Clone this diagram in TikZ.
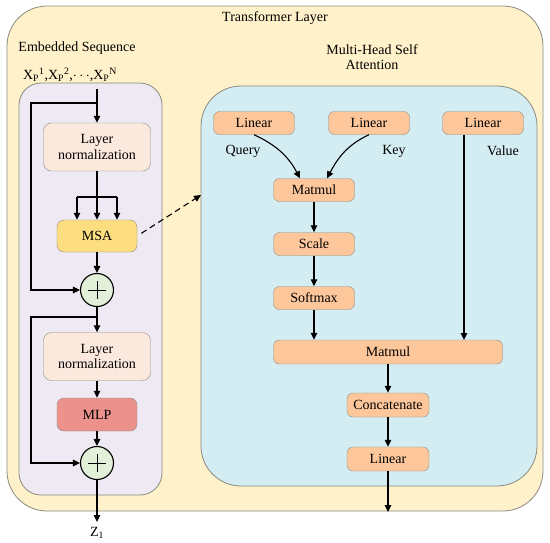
\documentclass[tikz,border=0pt]{standalone}
\usepackage{fontspec}
\setmainfont{Liberation Serif}
\usetikzlibrary{arrows.meta,calc}
\definecolor{outerfill}{HTML}{FFF1CA}
\definecolor{purplefill}{HTML}{EEE9F2}
\definecolor{lnfill}{HTML}{FCE9DE}
\definecolor{msafill}{HTML}{FCDD80}
\definecolor{mlpfill}{HTML}{EC928D}
\definecolor{plusfill}{HTML}{E2F0D9}
\definecolor{bluefill}{HTML}{D4EDF3}
\definecolor{orangefill}{HTML}{FDC79B}
\definecolor{edge}{HTML}{8A8A80}
\tikzset{
  every node/.style={font=\fontsize{14}{15.5}\selectfont},
  container/.style={draw=edge, line width=0.8pt, inner sep=0pt},
  lnbox/.style={draw=edge, fill=lnfill, rounded corners=8pt, minimum width=107pt, minimum height=48pt, align=center, inner sep=1pt},
  colbox/.style={draw=edge, rounded corners=7pt, minimum width=80pt, minimum height=32pt},
  obox/.style={draw=edge, fill=orangefill, rounded corners=6pt, minimum width=81pt, minimum height=23pt, inner sep=1pt},
  plusnode/.style={draw=black, line width=1.1pt, fill=plusfill, circle, minimum size=33pt, inner sep=0pt,
    path picture={\draw[line width=0.7pt] ([xshift=-9pt]path picture bounding box.center) -- ([xshift=9pt]path picture bounding box.center);
                  \draw[line width=0.7pt] ([yshift=-9pt]path picture bounding box.center) -- ([yshift=9pt]path picture bounding box.center);}},
  arr/.style={line width=1.1pt, -{Triangle[length=7pt,width=6.5pt]}},
  ln/.style={line width=1.1pt},
}
\begin{document}
\begin{tikzpicture}[x=1pt,y=-1pt]
\useasboundingbox (0,0) rectangle (550,542);
% containers
\node[container, fill=outerfill, rounded corners=40pt, minimum width=536pt, minimum height=505pt] (tl) at (275,258.5) {};
\node (tltitle) at (275,18) {Transformer Layer};
\node (emb) at (77,48) {Embedded Sequence};
\node (xin) at (70,75) {X\textsubscript{P}\textsuperscript{1},X\textsubscript{P}\textsuperscript{2},$\cdots$,X\textsubscript{P}\textsuperscript{N}};
\node[container, fill=purplefill, rounded corners=22pt, minimum width=143pt, minimum height=412pt] (enc) at (90.5,289) {};
\node[container, fill=bluefill, rounded corners=40pt, minimum width=336pt, minimum height=400pt] (mhsa) at (369,286) {};
\node[align=center] (mhsatitle) at (372,57) {Multi-Head Self\\Attention};

% encoder block
\node[lnbox] (ln1) at (97,147) {Layer\\normalization};
\node[colbox, fill=msafill] (msa) at (97,236) {MSA};
\node[plusnode] (p1) at (97,290) {};
\node[lnbox] (ln2) at (97,356.5) {Layer\\normalization};
\node[colbox, fill=mlpfill, minimum height=33pt] (mlp) at (97,414.5) {MLP};
\node[plusnode] (p2) at (97,463) {};
\node (z1) at (97,533) {Z\textsubscript{1}};

\coordinate (in) at (97,89);
\coordinate (b1) at (97,103);
\coordinate (s1a) at (31,103);
\coordinate (s1b) at (31,290);
\coordinate (f) at (97,197);
\coordinate (fl) at (77,197);
\coordinate (fr) at (117,197);
\coordinate (b2) at (97,317);
\coordinate (s2a) at (31,317);
\coordinate (s2b) at (31,463);
\coordinate (zout) at (97,522);
\coordinate (dashend) at (201,195);

\draw[arr] (in) -- (ln1.north);
\draw[arr] (b1) -- (s1a) -- (s1b) -- (p1.west);
\draw[ln] (ln1.south) -- (f);
\draw[ln] (fl) -- (fr);
\draw[arr] (fl) -- (fl |- msa.north);
\draw[arr] (f) -- (msa.north);
\draw[arr] (fr) -- (fr |- msa.north);
\draw[arr] (msa.south) -- (p1.north);
\draw[arr] (p1.south) -- (ln2.north);
\draw[arr] (b2) -- (s2a) -- (s2b) -- (p2.west);
\draw[arr] (ln2.south) -- (mlp.north);
\draw[arr] (mlp.south) -- (p2.north);
\draw[arr] (p2.south) -- (zout);
\draw[arr, dashed, dash pattern=on 6pt off 4pt, shorten <=5pt] (msa.east) -- (dashend);

% attention block
\node[obox] (l1) at (254,123) {Linear};
\node[obox] (l2) at (369,123) {Linear};
\node[obox] (l3) at (483,123) {Linear};
\node (q) at (243,151) {Query};
\node (k) at (394,151) {Key};
\node (v) at (503,151) {Value};
\node[obox] (mm1) at (314,190) {Matmul};
\node[obox] (sc) at (314,244) {Scale};
\node[obox] (sm) at (314,298) {Softmax};
\node[obox, minimum width=229pt, minimum height=24pt] (mm2) at (388,352) {Matmul};
\node[obox, minimum width=82pt, minimum height=24pt] (cc) at (388,405) {Concatenate};
\node[obox, minimum width=82pt, minimum height=24pt] (l4) at (388,459) {Linear};
\coordinate (aout) at (388,512);
\coordinate (vtop) at (464,134.5);
\coordinate (vbot) at (464,340);

\draw[arr] (l1.south) to[out=-25,in=118] ($(mm1.north)+(-14,0)$);
\draw[arr] (l2.south) to[out=-155,in=62] ($(mm1.north)+(13,0)$);
\draw[arr] (mm1.south) -- (sc.north);
\draw[arr] (sc.south) -- (sm.north);
\draw[arr] (sm.south) -- (sm.south |- mm2.north);
\draw[arr] (vtop) -- (vbot);
\draw[arr] (mm2.south) -- (cc.north);
\draw[arr] (cc.south) -- (l4.north);
\draw[arr] (l4.south) -- (aout);
\end{tikzpicture}
\end{document}
